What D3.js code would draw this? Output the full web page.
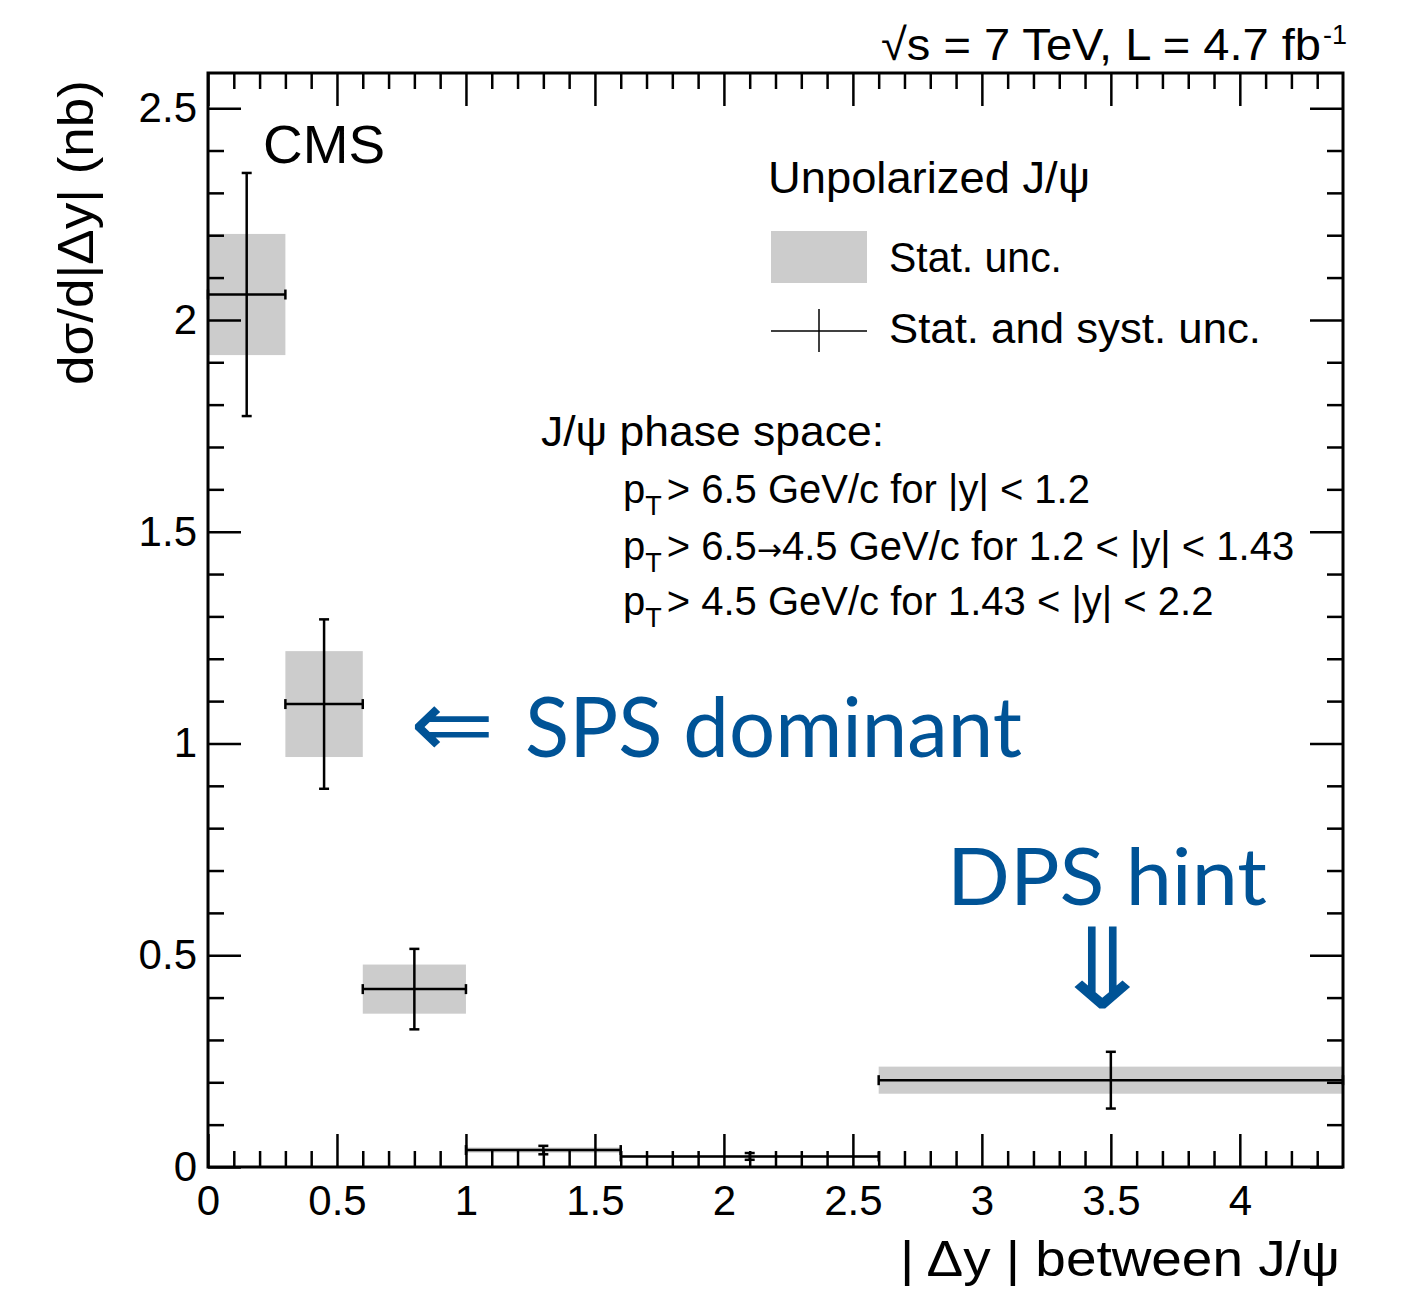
<!DOCTYPE html>
<html><head><meta charset="utf-8">
<script src="https://cdn.jsdelivr.net/npm/d3@7"></script>
<style>body{margin:0;background:#fff}</style>
</head><body>
<svg id="chart" width="1419" height="1298"></svg>
<script>
// Double J/psi cross section vs |Δy| — bins, values and uncertainties (nb)
const binLow    = [0.0, 0.3, 0.6, 1.0, 1.6, 2.6];
const binHigh   = [0.3, 0.6, 1.0, 1.6, 2.6, 4.4];
const binCenter = [0.15, 0.45, 0.80, 1.30, 2.10, 3.50];
const xsec      = [2.060, 1.093, 0.420, 0.040, 0.025, 0.205];
const statErr   = [0.143, 0.125, 0.058, 0.006, 0.003, 0.032];
const totErr    = [0.287, 0.200, 0.095, 0.010, 0.008, 0.067];

const xMajorTicks = [0, 0.5, 1, 1.5, 2, 2.5, 3, 3.5, 4];
const yMajorTicks = [0, 0.5, 1, 1.5, 2, 2.5];
const xMinorTicks = d3.range(0, 44).map(i => i / 10).filter(v => Math.abs(v * 2 - Math.round(v * 2)) > 1e-6);
const yMinorTicks = d3.range(0, 26).map(i => i / 10).filter(v => Math.abs(v * 2 - Math.round(v * 2)) > 1e-6);

const W = 1419, H = 1298;
const margin = {left: 208, right: 76, top: 73, bottom: 131};
const iw = W - margin.left - margin.right;
const ih = H - margin.top - margin.bottom;

const svg = d3.select("#chart");
const g = svg.append("g").attr("transform", `translate(${margin.left},${margin.top})`);

const x = d3.scaleLinear().domain([0, 4.4]).range([0, iw]);
const y = d3.scaleLinear().domain([0, 2.583]).range([ih, 0]);

const bins = xsec.map((v, i) => ({
  lo: binLow[i], hi: binHigh[i], c: binCenter[i], v: v, s: statErr[i], t: totErr[i]
}));

// statistical uncertainty boxes
g.selectAll("rect.stat").data(bins).join("rect")
  .attr("class", "stat")
  .attr("x", d => x(d.lo))
  .attr("width", d => x(d.hi) - x(d.lo))
  .attr("y", d => y(d.v + d.s))
  .attr("height", d => y(d.v - d.s) - y(d.v + d.s))
  .attr("fill", "#cccccc");

// axes with inward ticks on all four sides
const font = "'Liberation Sans', Arial, Helvetica, sans-serif";
function styleAxis(sel, showLabels) {
  sel.select(".domain").remove();
  sel.selectAll(".tick line").attr("stroke", "#000").attr("stroke-width", 2.5);
  sel.selectAll(".tick text").attr("font-family", font).attr("font-size", 42).attr("fill", "#000");
  if (!showLabels) sel.selectAll(".tick text").remove();
}
const fmt = d => String(d);
g.append("g").attr("transform", `translate(0,${ih})`)
  .call(d3.axisBottom(x).tickValues(xMajorTicks).tickSize(-33).tickPadding(18).tickFormat(fmt))
  .call(s => styleAxis(s, true));
g.append("g").attr("transform", `translate(0,${ih})`)
  .call(d3.axisBottom(x).tickValues(xMinorTicks).tickSize(-16).tickFormat(""))
  .call(s => styleAxis(s, false));
g.append("g")
  .call(d3.axisTop(x).tickValues(xMajorTicks).tickSize(-33).tickFormat(""))
  .call(s => styleAxis(s, false));
g.append("g")
  .call(d3.axisTop(x).tickValues(xMinorTicks).tickSize(-16).tickFormat(""))
  .call(s => styleAxis(s, false));
g.append("g")
  .call(d3.axisLeft(y).tickValues(yMajorTicks).tickSize(-33).tickPadding(11).tickFormat(fmt))
  .call(s => styleAxis(s, true));
g.append("g")
  .call(d3.axisLeft(y).tickValues(yMinorTicks).tickSize(-16).tickFormat(""))
  .call(s => styleAxis(s, false));
g.append("g").attr("transform", `translate(${iw},0)`)
  .call(d3.axisRight(y).tickValues(yMajorTicks).tickSize(-33).tickFormat(""))
  .call(s => styleAxis(s, false));
g.append("g").attr("transform", `translate(${iw},0)`)
  .call(d3.axisRight(y).tickValues(yMinorTicks).tickSize(-16).tickFormat(""))
  .call(s => styleAxis(s, false));

// frame
g.append("rect").attr("x", 0).attr("y", 0).attr("width", iw).attr("height", ih)
  .attr("fill", "none").attr("stroke", "#000").attr("stroke-width", 3);

// error bars: bin-width horizontal bar and total-uncertainty vertical bar, with end caps
const eb = g.append("g").attr("stroke", "#000").attr("stroke-width", 2.5).attr("fill", "none");
const cap = 5;
bins.forEach(d => {
  eb.append("line").attr("x1", x(d.lo)).attr("x2", x(d.hi)).attr("y1", y(d.v)).attr("y2", y(d.v));
  eb.append("line").attr("x1", x(d.lo)).attr("x2", x(d.lo)).attr("y1", y(d.v) - cap).attr("y2", y(d.v) + cap);
  eb.append("line").attr("x1", x(d.hi)).attr("x2", x(d.hi)).attr("y1", y(d.v) - cap).attr("y2", y(d.v) + cap);
  eb.append("line").attr("x1", x(d.c)).attr("x2", x(d.c)).attr("y1", y(d.v + d.t)).attr("y2", y(d.v - d.t));
  eb.append("line").attr("x1", x(d.c) - cap).attr("x2", x(d.c) + cap).attr("y1", y(d.v + d.t)).attr("y2", y(d.v + d.t));
  eb.append("line").attr("x1", x(d.c) - cap).attr("x2", x(d.c) + cap).attr("y1", y(d.v - d.t)).attr("y2", y(d.v - d.t));
});

// text
function txt(xp, yp, s, size, opts = {}) {
  const t = svg.append("text").attr("x", xp).attr("y", yp)
    .attr("font-family", opts.family || font).attr("font-size", size)
    .attr("fill", opts.fill || "#000").attr("text-anchor", opts.anchor || "start");
  if (opts.len) t.attr("textLength", opts.len).attr("lengthAdjust", "spacingAndGlyphs");
  if (opts.transform) t.attr("transform", opts.transform);
  t.text(s);
  return t;
}

// energy and luminosity
txt(1321, 60, "\u221As = 7 TeV, L = 4.7 fb", 45, {anchor: "end", len: 440});
txt(1323, 44, "-1", 27);

txt(263, 163, "CMS", 54, {len: 122});

// axis titles
txt(1340, 1276, "| \u0394y | between J/\u03C8", 50, {anchor: "end", len: 440});
txt(0, 0, "d\u03C3/d|\u0394y| (nb)", 50, {anchor: "end", len: 305, transform: "translate(93,80) rotate(-90)"});

// legend
txt(768, 193, "Unpolarized J/\u03C8", 44, {len: 322});
svg.append("rect").attr("x", 771).attr("y", 231).attr("width", 96).attr("height", 52).attr("fill", "#cccccc");
txt(889, 272, "Stat. unc.", 42, {len: 173});
svg.append("line").attr("x1", 771).attr("x2", 867).attr("y1", 331).attr("y2", 331).attr("stroke", "#000").attr("stroke-width", 1.5);
svg.append("line").attr("x1", 819).attr("x2", 819).attr("y1", 309).attr("y2", 352).attr("stroke", "#000").attr("stroke-width", 1.5);
txt(889, 343, "Stat. and syst. unc.", 42, {len: 372});

// phase space
txt(541, 446, "J/\u03C8 phase space:", 43, {len: 343});
const ptLines = [
  [503, ["> 6.5 GeV/c for |y| < 1.2"]],
  [560, ["> 6.5", "\u2192", "4.5 GeV/c for 1.2 < |y| < 1.43"]],
  [615, ["> 4.5 GeV/c for 1.43 < |y| < 2.2"]]
];
ptLines.forEach(([yy, parts]) => {
  const t = svg.append("text").attr("x", 623).attr("y", yy)
    .attr("font-family", font).attr("font-size", 40);
  t.append("tspan").text("p");
  t.append("tspan").attr("dy", 12).attr("font-size", 27).text("T");
  t.append("tspan").attr("dy", -12).attr("dx", 5).text(parts[0]);
  if (parts.length > 1) {
    t.append("tspan").attr("font-family", "'DejaVu Sans', sans-serif").attr("font-size", 30).text(parts[1]);
    t.append("tspan").text(parts[2]);
  }
});

// annotations
const blue = "#005396";
const gill = "Lato, 'Open Sans', sans-serif";
txt(0, 0, "\u21D0", 96, {family: "'DejaVu Sans', sans-serif", fill: blue,
  transform: "translate(410,757) scale(1.05,1.0)"});
txt(525, 757, "SPS dominant", 84, {family: gill, fill: blue, len: 497});
txt(947, 905, "DPS hint", 80, {family: gill, fill: blue, len: 320});
// downward double arrow: the same double-arrow glyph turned to point down
txt(0, 0, "\u21D0", 100, {family: "'DejaVu Sans', sans-serif", fill: blue, anchor: "middle",
  transform: "translate(1143,967) rotate(-90) scale(1.12,1.3)"});
</script>
</body></html>
